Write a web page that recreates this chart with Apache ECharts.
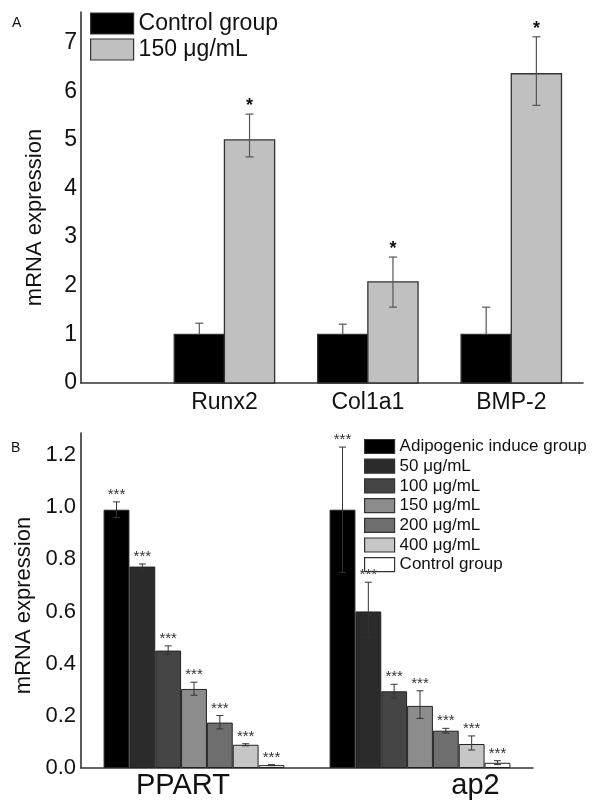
<!DOCTYPE html>
<html>
<head>
<meta charset="utf-8">
<script src="https://cdn.jsdelivr.net/npm/echarts@6/dist/echarts.min.js"></script>
<style>html,body{margin:0;padding:0;background:#fff}#c{width:600px;height:808px}</style>
</head>
<body>
<div id="c"></div>
<script>
// ---------- Panel A data ----------
const catsA = ['Runx2', 'Col1a1', 'BMP-2'];
const seriesNamesA = ['Control group', '150 μg/mL'];
const ctrlA = [1.0, 1.0, 1.0];
const ctrlALow = [1.0, 1.0, 1.0];
const ctrlAHigh = [1.23, 1.21, 1.56];
const dose150A = [5.0, 2.08, 6.36];
const dose150ALow = [4.65, 1.56, 5.71];
const dose150AHigh = [5.53, 2.59, 7.12];
const starsCtrlA = ['', '', ''];
const stars150A = ['*', '*', '*'];

// ---------- Panel B data ----------
const catsB = ['PPART', 'ap2'];
const groupsB = ['Adipogenic induce group', '50 μg/mL', '100 μg/mL', '150 μg/mL', '200 μg/mL', '400 μg/mL', 'Control group'];
const ppartVals = [0.99, 0.772, 0.45, 0.303, 0.174, 0.089, 0.011];
const ppartLow  = [0.96, 0.762, 0.436, 0.279, 0.150, 0.085, 0.009];
const ppartHigh = [1.02, 0.782, 0.468, 0.329, 0.201, 0.093, 0.013];
const ap2Vals = [0.99, 0.60, 0.294, 0.238, 0.143, 0.092, 0.02];
const ap2Low  = [0.75, 0.50, 0.268, 0.19, 0.134, 0.069, 0.013];
const ap2High = [1.23, 0.712, 0.321, 0.296, 0.152, 0.123, 0.028];
const starsB = ['***', '***', '***', '***', '***', '***', '***'];

// ---------- styles ----------
const FONT = "'Liberation Sans', Arial, sans-serif";
const colorsA = ['#000000', '#c0c0c0'];
const colorsB = ['#000000', '#2b2b2b', '#454545', '#8c8c8c', '#6e6e6e', '#c6c6c6', '#ffffff'];
const BAR_HALF_A = 0.175;

function renderBarA(side, fill, stars) {
  return function (params, api) {
    const x = api.value(0), v = api.value(1), lo = api.value(2), hi = api.value(3);
    const x0 = side < 0 ? x - 2 * BAR_HALF_A : x;
    const x1 = x0 + 2 * BAR_HALF_A;
    const p0 = api.coord([x0, v]);
    const p1 = api.coord([x1, 0]);
    const cx = (p0[0] + p1[0]) / 2;
    const yLo = api.coord([x, lo])[1];
    const yHi = api.coord([x, hi])[1];
    const children = [
      { type: 'rect', shape: { x: p0[0], y: p0[1], width: p1[0] - p0[0], height: p1[1] - p0[1] },
        style: { fill: fill, stroke: '#333', lineWidth: 1.3 } },
      { type: 'line', shape: { x1: cx, y1: yLo, x2: cx, y2: yHi }, style: { stroke: '#555', lineWidth: 1.2 } },
      { type: 'line', shape: { x1: cx - 4, y1: yHi, x2: cx + 4, y2: yHi }, style: { stroke: '#555', lineWidth: 1.2 } }
    ];
    if (lo < v) {
      children.push({ type: 'line', shape: { x1: cx - 4, y1: yLo, x2: cx + 4, y2: yLo }, style: { stroke: '#555', lineWidth: 1.2 } });
    }
    const s = stars[params.dataIndex];
    if (s) {
      children.push({ type: 'text', x: cx, y: yHi - 8,
        style: { text: s, fill: '#111', font: 'bold 18px ' + FONT, align: 'center', verticalAlign: 'middle' } });
    }
    return { type: 'group', children: children };
  };
}

function renderErrB(params, api) {
  const c = api.value(0), g = api.value(1), lo = api.value(2), hi = api.value(3);
  const band = api.size([1, 0])[0];
  const center = api.coord([c, 0])[0];
  const w = band * 0.8 / groupsB.length;
  const cx = center - band * 0.4 + (g + 0.5) * w;
  const yLo = api.coord([c, lo])[1];
  const yHi = api.coord([c, hi])[1];
  return { type: 'group', children: [
    { type: 'line', shape: { x1: cx, y1: yLo, x2: cx, y2: yHi }, style: { stroke: '#333', lineWidth: 1 } },
    { type: 'line', shape: { x1: cx - 3.5, y1: yHi, x2: cx + 3.5, y2: yHi }, style: { stroke: '#333', lineWidth: 1 } },
    { type: 'line', shape: { x1: cx - 3.5, y1: yLo, x2: cx + 3.5, y2: yLo }, style: { stroke: '#333', lineWidth: 1 } },
    { type: 'text', x: cx, y: yHi - 7,
      style: { text: starsB[g], fill: '#333', font: '15px ' + FONT, align: 'center', verticalAlign: 'middle' } }
  ]};
}

const seriesB = groupsB.map((name, g) => ({
  type: 'bar', name: name, xAxisIndex: 1, yAxisIndex: 1,
  data: [ppartVals[g], ap2Vals[g]],
  barGap: '0%', barCategoryGap: '20%',
  itemStyle: { color: colorsB[g], borderColor: '#222', borderWidth: 1 }
}));

const errDataB = [];
groupsB.forEach((name, g) => {
  errDataB.push([0, g, ppartLow[g], ppartHigh[g]]);
  errDataB.push([1, g, ap2Low[g], ap2High[g]]);
});

const axisLineStyle = { color: '#333', width: 1.6 };

const option = {
  backgroundColor: '#fff',
  animation: false,
  textStyle: { fontFamily: FONT },
  title: [
    { text: 'A', left: 7, top: 11, textStyle: { fontSize: 14, fontWeight: 'normal', color: '#111', fontFamily: FONT } },
    { text: 'B', left: 6, top: 436, textStyle: { fontSize: 14, fontWeight: 'normal', color: '#111', fontFamily: FONT } }
  ],
  legend: [
    { selectedMode: false, orient: 'vertical', left: 90, top: 12, icon: 'rect', padding: 0,
      itemWidth: 43, itemHeight: 21, itemGap: 3,
      textStyle: { fontSize: 23, lineHeight: 21, color: '#111', fontFamily: FONT },
      data: seriesNamesA.map((n, i) => ({ name: n, itemStyle: { color: colorsA[i], borderColor: '#333', borderWidth: 1.2 } })) },
    { selectedMode: false, orient: 'vertical', left: 364, top: 438, icon: 'rect', padding: 0,
      itemWidth: 30, itemHeight: 14, itemGap: 2.7,
      textStyle: { fontSize: 17, lineHeight: 14, color: '#111', fontFamily: FONT },
      data: groupsB.map((n, i) => ({ name: n, itemStyle: { color: colorsB[i], borderColor: '#333', borderWidth: 1.2 } })) }
  ],
  grid: [
    { left: 81, right: 17, top: 12, height: 371 },
    { left: 81, right: 67, top: 433, height: 335 }
  ],
  xAxis: [
    { type: 'value', gridIndex: 0, min: -1, max: 2.5,
      axisLine: { show: true, onZero: false, lineStyle: axisLineStyle },
      axisTick: { show: false }, splitLine: { show: false },
      axisLabel: { customValues: [0, 1, 2], formatter: v => catsA[Math.round(v)], fontSize: 23, color: '#111', margin: 8, fontFamily: FONT } },
    { type: 'category', gridIndex: 1,
      data: [
        { value: catsB[0], textStyle: { padding: [0, 22, 0, 0] } },
        { value: catsB[1], textStyle: { padding: [0, 0, 0, 111] } }
      ],
      axisLine: { show: true, onZero: false, lineStyle: axisLineStyle },
      axisTick: { show: false }, splitLine: { show: false },
      axisLabel: { fontSize: 29, color: '#111', margin: 3, fontFamily: FONT } }
  ],
  yAxis: [
    { type: 'value', gridIndex: 0, min: 0, max: 7.63, interval: 1,
      name: 'mRNA expression', nameLocation: 'middle', nameGap: 35,
      nameTextStyle: { fontSize: 22, color: '#111', fontFamily: FONT, padding: [0, 40, 0, 0] },
      axisLine: { show: true, onZero: false, lineStyle: axisLineStyle },
      axisTick: { show: false }, splitLine: { show: false },
      axisLabel: { fontSize: 23, color: '#111', margin: 4, fontFamily: FONT,
        formatter: v => (Math.abs(v - Math.round(v)) < 1e-6 ? String(Math.round(v)) : '') } },
    { type: 'value', gridIndex: 1, min: 0, max: 1.284, interval: 0.2,
      name: 'mRNA expression', nameLocation: 'middle', nameGap: 35,
      nameTextStyle: { fontSize: 22, color: '#111', fontFamily: FONT, padding: [0, 10, 0, 0] },
      axisLine: { show: true, onZero: false, lineStyle: axisLineStyle },
      axisTick: { show: false }, splitLine: { show: false },
      axisLabel: { fontSize: 22, color: '#111', margin: 5, fontFamily: FONT,
        formatter: v => (Math.abs(v / 0.2 - Math.round(v / 0.2)) < 1e-6 ? v.toFixed(1) : '') } }
  ],
  series: [
    { type: 'custom', name: seriesNamesA[0], xAxisIndex: 0, yAxisIndex: 0,
      itemStyle: { color: colorsA[0] },
      encode: { x: 0, y: [1, 2, 3] },
      data: catsA.map((c, i) => [i, ctrlA[i], ctrlALow[i], ctrlAHigh[i]]),
      renderItem: renderBarA(-1, colorsA[0], starsCtrlA) },
    { type: 'custom', name: seriesNamesA[1], xAxisIndex: 0, yAxisIndex: 0,
      itemStyle: { color: colorsA[1] },
      encode: { x: 0, y: [1, 2, 3] },
      data: catsA.map((c, i) => [i, dose150A[i], dose150ALow[i], dose150AHigh[i]]),
      renderItem: renderBarA(1, colorsA[1], stars150A) },
    ...seriesB,
    { type: 'custom', name: 'errB', xAxisIndex: 1, yAxisIndex: 1, z: 10,
      encode: { x: 0, y: [2, 3] },
      data: errDataB, renderItem: renderErrB }
  ]
};

const chart = echarts.init(document.getElementById('c'));
chart.setOption(option);
</script>
</body>
</html>
